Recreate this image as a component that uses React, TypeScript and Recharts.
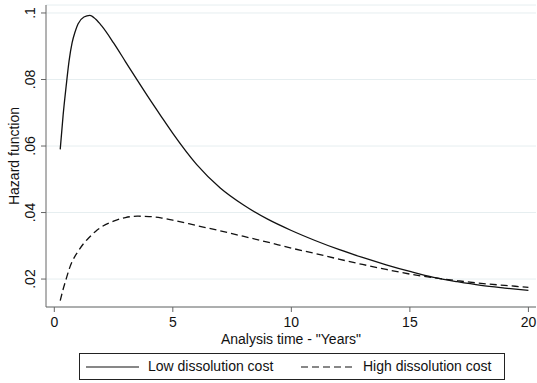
import { LineChart, Line, XAxis, YAxis, CartesianGrid } from "recharts";

const years = [
  0.25, 0.375, 0.5, 0.625, 0.75, 0.875, 1, 1.25, 1.5, 1.75, 2, 2.5, 3, 3.5, 4, 4.5, 5, 6, 7, 8, 9, 10, 11, 12, 13, 14, 15,
  16, 17, 18, 19, 20,
];

const lowCost = [
  0.059, 0.0695, 0.078, 0.0857, 0.091, 0.0943, 0.0967, 0.0988, 0.0993, 0.0981, 0.0961, 0.091, 0.0854, 0.0798, 0.0743,
  0.069, 0.0638, 0.0545, 0.0474, 0.0422, 0.038, 0.0346, 0.0316, 0.0289, 0.0265, 0.0243, 0.0223, 0.0205, 0.0192, 0.0181,
  0.0173, 0.0166,
];

const highCost = [
  0.0135, 0.017, 0.02, 0.0229, 0.0252, 0.0269, 0.0283, 0.0308, 0.0327, 0.0344, 0.0357, 0.0374, 0.0385, 0.0389, 0.0388,
  0.0384, 0.0377, 0.0361, 0.0345, 0.0328, 0.0311, 0.0293, 0.0277, 0.026, 0.0244, 0.0229, 0.0215, 0.0204, 0.0195, 0.0187,
  0.0181, 0.0175,
];

const xTicks = [0, 5, 10, 15, 20];
const yTicks = [0.02, 0.04, 0.06, 0.08, 0.1];

const data = years.map((t, i) => ({ t, low: lowCost[i], high: highCost[i] }));

const font = "'Liberation Sans', Arial, Helvetica, sans-serif";
const axisColor = "#666";

function fmtY(v: number) {
  return String(v).replace(/^0\./, ".");
}

function YTick({ x, y, payload }: any) {
  return (
    <text
      x={x}
      y={y}
      transform={`rotate(-90 ${x} ${y})`}
      textAnchor="middle"
      fontSize={14}
      fontFamily={font}
      fill="#111"
    >
      {fmtY(payload.value)}
    </text>
  );
}

function YLabel({ viewBox }: any) {
  const cx = 19;
  const cy = viewBox.y + viewBox.height / 2;
  return (
    <text
      x={cx}
      y={cy}
      transform={`rotate(-90 ${cx} ${cy})`}
      textAnchor="middle"
      fontSize={14}
      fontFamily={font}
      fill="#111"
    >
      Hazard function
    </text>
  );
}

export default function App() {
  return (
    <div style={{ position: "absolute", left: 0, top: 0, width: 537, height: 383, background: "#fff" }}>
      <LineChart width={537} height={383} data={data} margin={{ top: 5, right: 1, bottom: 36, left: 0 }}>
        <CartesianGrid vertical={false} stroke="#e6eef0" />
        <XAxis
          dataKey="t"
          type="number"
          domain={[-0.35, 20.32]}
          ticks={xTicks}
          allowDataOverflow
          height={40}
          stroke={axisColor}
          tickSize={5}
          tickMargin={5}
          tick={{ fontSize: 14, fontFamily: font, fill: "#111" }}
          label={{ value: 'Analysis time - "Years"', position: "insideBottom", offset: 3, fontSize: 14, fontFamily: font, fill: "#111" }}
        />
        <YAxis
          type="number"
          domain={[0.0116, 0.1024]}
          ticks={yTicks}
          allowDataOverflow
          width={46}
          stroke={axisColor}
          tickSize={5}
          tickMargin={6}
          tick={<YTick />}
          label={<YLabel />}
        />
        <Line dataKey="low" type="monotone" stroke="#111" strokeWidth={1.3} dot={false} isAnimationActive={false} />
        <Line
          dataKey="high"
          type="monotone"
          stroke="#111"
          strokeWidth={1.3}
          strokeDasharray="7 4"
          dot={false}
          isAnimationActive={false}
        />
      </LineChart>
      <div
        style={{
          position: "absolute",
          left: 79,
          top: 353,
          width: 424,
          height: 25,
          border: "1px solid #222",
          fontFamily: font,
          fontSize: 14,
          color: "#111",
        }}
      >
        <svg width={424} height={25} style={{ position: "absolute", left: 0, top: 0 }}>
          <line x1={6} x2={59} y1={13} y2={13} stroke="#111" strokeWidth={1.2} />
          <line x1={221} x2={274} y1={13} y2={13} stroke="#111" strokeWidth={1.2} strokeDasharray="7 4" />
        </svg>
        <span style={{ position: "absolute", left: 68, top: 4 }}>Low dissolution cost</span>
        <span style={{ position: "absolute", left: 283, top: 4 }}>High dissolution cost</span>
      </div>
    </div>
  );
}
